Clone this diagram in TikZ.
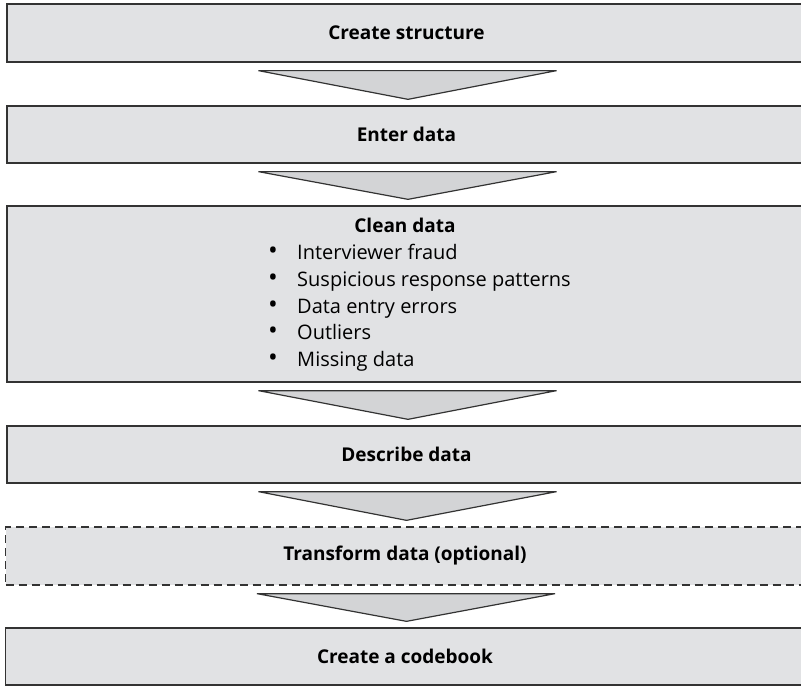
\documentclass[tikz,border=0pt]{standalone}
\usepackage{fontspec}
\setmainfont{Open Sans}
\usetikzlibrary{calc}
\definecolor{bordergray}{HTML}{333333}
\definecolor{boxgray}{HTML}{E1E2E4}
\definecolor{trigray}{HTML}{D3D4D6}
\newcommand\flowtri[2]{\draw[tri] ($(#1.south)+(-148,8)$) -- ($(#1.south)+(150,8)$) -- ($(#2.north)+(1.5,-6)$) -- cycle;}
\begin{document}
\begin{tikzpicture}[x=1pt,y=-1pt,
  box/.style={draw=bordergray, fill=boxgray, line width=1.3pt, rectangle, minimum width=799pt, inner sep=0pt, font=\fontsize{19}{22}\selectfont\bfseries},
  dashbox/.style={box, dash pattern=on 8pt off 5pt},
  tri/.style={draw=bordergray, fill=trigray, line width=1.2pt, line join=miter},
  item/.style={anchor=base west, inner sep=0pt, font=\fontsize{20}{22}\selectfont},
  bul/.style={anchor=base, inner sep=0pt, font=\fontsize{26}{22}\selectfont}]
\useasboundingbox (0,0) rectangle (801,687);
\begin{scope}
\clip (0,0) rectangle (801,687);
\node[box, minimum height=58pt] (b1) at (406.5,33) {Create structure};
\node[box, minimum height=57pt] (b2) at (406.5,134.5) {Enter data};
\node[box, minimum height=176pt] (b3) at (406.5,294) {};
\node[box, minimum height=57pt] (b4) at (406.5,454.5) {Describe data};
\node[dashbox, minimum height=58pt] (b5) at (405,556) {Transform data (optional)};
\node[box, minimum height=57pt] (b6) at (405,656.5) {Create a codebook};
\end{scope}
\node[anchor=base, inner sep=0pt, font=\fontsize{19}{22}\selectfont\bfseries] (t3) at (405,233) {Clean data};
\node[bul] (d1) at (273,260) {•};
\node[item] (i1) at (297,260) {Interviewer fraud};
\node[bul] (d2) at (273,286.5) {•};
\node[item] (i2) at (297,286.5) {Suspicious response patterns};
\node[bul] (d3) at (273,313) {•};
\node[item] (i3) at (297,313) {Data entry errors};
\node[bul] (d4) at (273,339.5) {•};
\node[item] (i4) at (297,339.5) {Outliers};
\node[bul] (d5) at (273,366) {•};
\node[item] (i5) at (297,366) {Missing data};
\flowtri{b1}{b2}
\flowtri{b2}{b3}
\flowtri{b3}{b4}
\flowtri{b4}{b5}
\flowtri{b5}{b6}
\end{tikzpicture}
\end{document}
